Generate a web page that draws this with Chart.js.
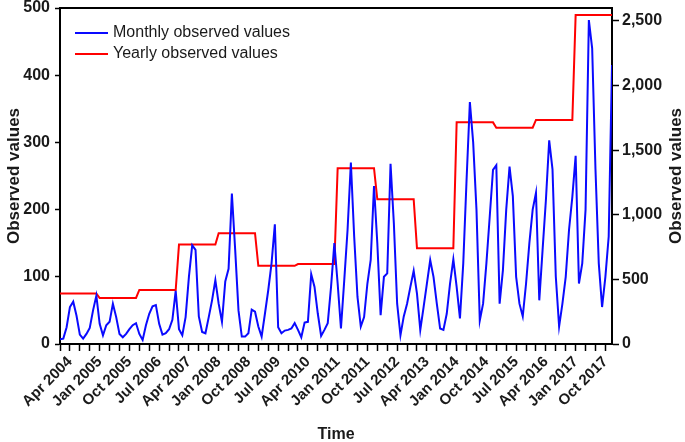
<!DOCTYPE html>
<html>
<head>
<meta charset="utf-8">
<script src="https://cdn.jsdelivr.net/npm/chart.js@4.4.1/dist/chart.umd.min.js"></script>
<style>
  html, body { margin: 0; padding: 0; background: #fff; }
</style>
</head>
<body>
<canvas id="chart" width="685" height="442"></canvas>
<script>
// monthly observations, Jan 2004 .. Dec 2017 (one value per month)
const monthlyValues = [
  7, 8, 25, 55, 63, 42, 14, 8, 15, 24, 50, 72,              // 2004
  30, 13, 28, 33, 60, 40, 15, 10, 15, 22, 28, 31,           // 2005
  15, 6, 28, 45, 56, 58, 30, 14, 16, 22, 36, 79,            // 2006
  22, 13, 40, 100, 147, 140, 41, 18, 16, 40, 65, 95,        // 2007
  60, 33, 93, 112, 224, 140, 50, 11, 11, 16, 51, 48,        // 2008
  26, 11, 45, 80, 120, 178, 25, 16, 20, 21, 23, 31,         // 2009
  21, 10, 32, 33, 104, 85, 45, 12, 21, 31, 85, 150,         // 2010
  90, 23, 95, 170, 270, 160, 70, 26, 40, 90, 125, 235,      // 2011
  150, 43, 100, 105, 268, 180, 60, 13, 41, 60, 85, 109,     // 2012
  75, 21, 55, 90, 125, 100, 60, 23, 21, 45, 90, 126,        // 2013
  85, 38, 120, 244, 360, 300, 200, 35, 60, 120, 189, 259,   // 2014
  266, 60, 110, 200, 264, 220, 100, 60, 41, 90, 150, 200,   // 2015
  225, 65, 140, 214, 303, 260, 100, 26, 60, 100, 170, 219,  // 2016
  280, 90, 120, 200, 482, 440, 260, 120, 55, 100, 160, 415  // 2017
];

// yearly observations (right axis)
const years = [2004, 2005, 2006, 2007, 2008, 2009, 2010, 2011, 2012, 2013, 2014, 2015, 2016, 2017];
const yearlyValues = [390, 356, 418, 769, 857, 605, 619, 1360, 1120, 741, 1715, 1674, 1734, 2545];

// x tick labels, every 9 months starting Apr 2004 (month index 3)
const tickLabels = [
  "Apr 2004", "Jan 2005", "Oct 2005", "Jul 2006", "Apr 2007", "Jan 2008", "Oct 2008",
  "Jul 2009", "Apr 2010", "Jan 2011", "Oct 2011", "Jul 2012", "Apr 2013", "Jan 2014",
  "Oct 2014", "Jul 2015", "Apr 2016", "Jan 2017", "Oct 2017"
];
const rightTicks = [0, 500, 1000, 1500, 2000, 2500];

const FONT = '"Liberation Sans", Arial, sans-serif';
Chart.defaults.font.family = FONT;
Chart.defaults.color = '#1a1a1a';

const monthlyData = monthlyValues.map((v, i) => ({ x: i, y: v }));
// each year is a flat segment from its January to its December
const yearlyData = years.flatMap((yr, k) => [
  { x: k * 12, y: yearlyValues[k] },
  { x: k * 12 + 11, y: yearlyValues[k] }
]);

// legend inside the plot, top border of the frame, right axis title (reads upward)
const plotExtras = {
  id: 'plotExtras',
  afterDraw(chart) {
    const { ctx, chartArea } = chart;
    ctx.save();
    ctx.strokeStyle = '#000';
    ctx.lineWidth = 2;
    ctx.beginPath();
    ctx.moveTo(chartArea.left - 1, chartArea.top);
    ctx.lineTo(chartArea.right + 1, chartArea.top);
    ctx.stroke();

    ctx.font = '16px ' + FONT;
    ctx.textBaseline = 'middle';
    ctx.fillStyle = '#1a1a1a';
    chart.data.datasets.forEach((ds, k) => {
      const y = chartArea.top + 25 + k * 21;
      ctx.strokeStyle = ds.borderColor;
      ctx.lineWidth = 2;
      ctx.beginPath();
      ctx.moveTo(chartArea.left + 15, y);
      ctx.lineTo(chartArea.left + 48, y);
      ctx.stroke();
      ctx.fillText(ds.label, chartArea.left + 53, y);
    });

    ctx.font = 'bold 17px ' + FONT;
    ctx.textAlign = 'center';
    ctx.translate(chart.width - 9, (chartArea.top + chartArea.bottom) / 2);
    ctx.rotate(-Math.PI / 2);
    ctx.fillText('Observed values', 0, 0);
    ctx.restore();
  }
};

const config = {
  type: 'line',
  data: {
    datasets: [
      {
        label: 'Monthly observed values',
        data: monthlyData,
        borderColor: '#0a0aff',
        borderWidth: 2,
        pointRadius: 0,
        tension: 0,
        yAxisID: 'y'
      },
      {
        label: 'Yearly observed values',
        data: yearlyData,
        borderColor: '#ff0000',
        borderWidth: 2,
        pointRadius: 0,
        tension: 0,
        yAxisID: 'y2'
      }
    ]
  },
  options: {
    responsive: false,
    animation: false,
    devicePixelRatio: 1,
    layout: { padding: { top: 8, left: 0, right: 0, bottom: 0 } },
    plugins: { legend: { display: false }, tooltip: { enabled: false } },
    scales: {
      x: {
        type: 'linear',
        min: 0,
        max: monthlyValues.length - 1,
        ticks: {
          stepSize: 3,
          includeBounds: false,
          autoSkip: false,
          minRotation: 45,
          maxRotation: 45,
          padding: 2,
          font: { size: 15, weight: 'bold' },
          callback: v => ((v - 3) % 9 === 0 ? tickLabels[(v - 3) / 9] : '')
        },
        grid: { drawOnChartArea: false, tickLength: 7, tickColor: '#000', tickWidth: 1.5 },
        border: { color: '#000', width: 2 },
        title: { display: true, text: 'Time', font: { size: 16, weight: 'bold' }, padding: { top: 0, bottom: -2 } },
        afterFit: s => { s.height = 98; }
      },
      y: {
        position: 'left',
        min: 0,
        max: 500,
        ticks: { stepSize: 100, padding: 5, font: { size: 16, weight: 'bold' } },
        grid: { drawOnChartArea: false, tickLength: 5, tickColor: '#000', tickWidth: 1.5 },
        border: { color: '#000', width: 2 },
        title: { display: true, text: 'Observed values', font: { size: 17, weight: 'bold' }, padding: { top: 4 } },
        afterFit: s => { s.width = 60; s.paddingTop = 0; s.paddingBottom = 0; }
      },
      y2: {
        position: 'right',
        min: 0,
        max: 2600,
        afterBuildTicks: s => { s.ticks = rightTicks.map(v => ({ value: v })); },
        ticks: {
          padding: 3,
          font: { size: 16, weight: 'bold' },
          callback: v => v.toLocaleString('en-US')
        },
        grid: { drawOnChartArea: false, tickLength: 7, tickColor: '#000', tickWidth: 1.5 },
        border: { color: '#000', width: 2 },
        title: { display: false },
        afterFit: s => { s.width = 73; s.paddingTop = 0; s.paddingBottom = 0; }
      }
    }
  },
  plugins: [plotExtras]
};

const ctx = document.getElementById('chart');
const chart = new Chart(ctx, config);
</script>
</body>
</html>
